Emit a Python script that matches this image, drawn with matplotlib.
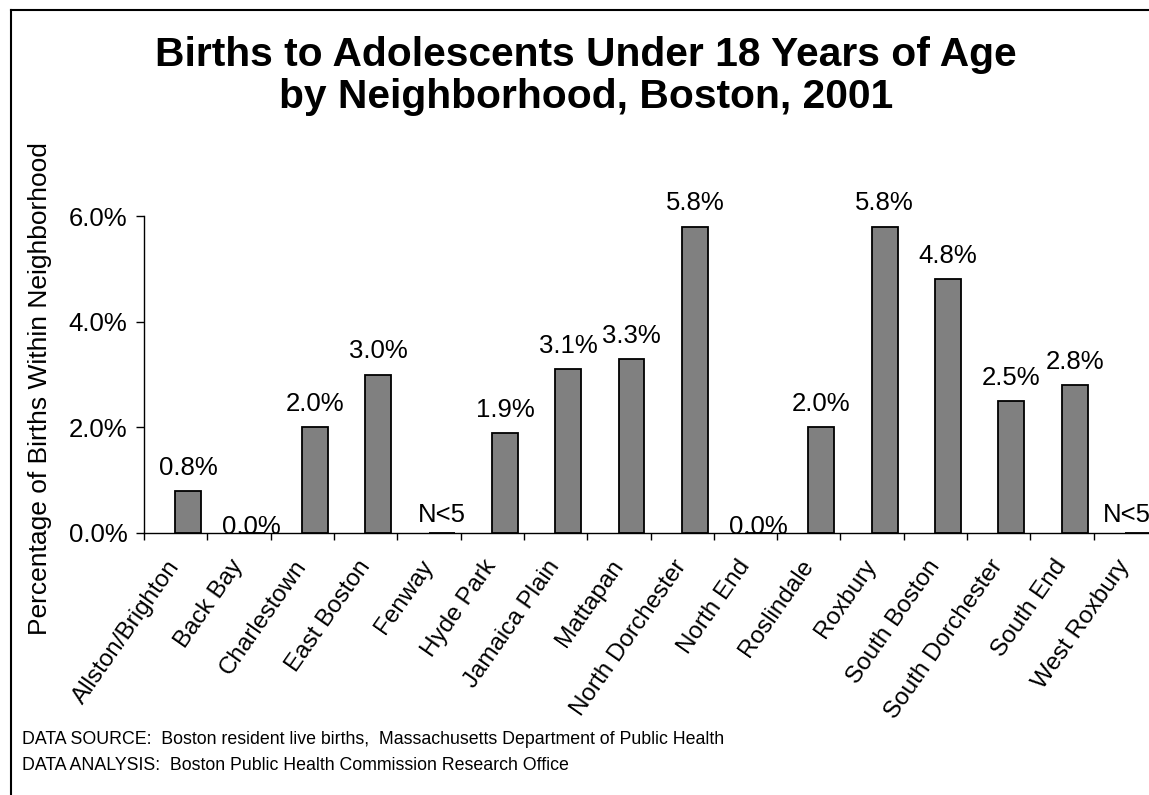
import numpy as np
import matplotlib
matplotlib.use("Agg")
import matplotlib.pyplot as plt
from matplotlib.lines import Line2D

plt.rcParams['font.family'] = ['Liberation Sans', 'DejaVu Sans']

neighborhoods = ["Allston/Brighton", "Back Bay", "Charlestown", "East Boston", "Fenway",
                 "Hyde Park", "Jamaica Plain", "Mattapan", "North Dorchester", "North End",
                 "Roslindale", "Roxbury", "South Boston", "South Dorchester", "South End",
                 "West Roxbury"]
# percent of births; None = suppressed (N<5)
pct = [0.8, 0.0, 2.0, 3.0, None, 1.9, 3.1, 3.3, 5.8, 0.0, 2.0, 5.8, 4.8, 2.5, 2.8, None]
yticks = [0, 2, 4, 6]

title = "Births to Adolescents Under 18 Years of Age\nby Neighborhood, Boston, 2001"
ylabel = "Percentage of Births Within Neighborhood"
notes = ["DATA SOURCE:  Boston resident live births,  Massachusetts Department of Public Health",
         "DATA ANALYSIS:  Boston Public Health Commission Research Office"]

W, H = 1149, 795
fig = plt.figure(figsize=(W / 100, H / 100), dpi=100)

# outer frame (only top and left edges fall inside the picture)
fig.add_artist(Line2D([11 / W, 1.01], [1 - 10 / H, 1 - 10 / H], color='black', lw=1.5))
fig.add_artist(Line2D([11 / W, 11 / W], [1 - 10 / H, -0.01], color='black', lw=1.5))

ax = fig.add_axes([144 / W, (H - 533) / H, 1013 / W, 317 / H])

x = np.arange(len(neighborhoods))
shift, width = 0.2, 0.41
fs = 18.5
heights = [v if v is not None else 0 for v in pct]
ax.bar(x + shift, heights, width=width, color='#808080', edgecolor='black', linewidth=1.3, zorder=3)

for i, v in enumerate(pct):
    xs = i + shift
    ha = 'center'
    if i == len(pct) - 1:
        xs = i + shift + width / 2
        ha = 'right'
    if v is None:
        txt, off = "N<5", 4.3
    elif v == 0:
        txt, off = f"{v:.1f}%", -4
    else:
        txt, off = f"{v:.1f}%", 8
    ax.annotate(txt, (xs, heights[i]), xytext=(0, off), textcoords='offset points',
                ha=ha, va='bottom', fontsize=fs, clip_on=False, annotation_clip=False)

ax.set_xlim(-0.5, len(neighborhoods) - 0.5)
ax.set_ylim(0, 6)
ax.set_yticks(yticks)
ax.set_yticklabels([f"{t:.1f}%" for t in yticks], fontsize=fs)
ax.tick_params(axis='y', direction='out', length=6, width=1, pad=6)

ax.set_xticks(np.arange(len(neighborhoods) + 1) - 0.5)
ax.set_xticklabels([])
ax.tick_params(axis='x', which='major', direction='out', length=5, width=1)
ax.set_xticks(x, minor=True)
ax.set_xticklabels(neighborhoods, minor=True, rotation=55, ha='right', va='center',
                   rotation_mode='anchor', fontsize=17.5)
ax.tick_params(axis='x', which='minor', length=0, pad=21)

for s in ['top', 'right']:
    ax.spines[s].set_visible(False)
ax.spines['left'].set_linewidth(1)
ax.spines['bottom'].set_linewidth(1)

fig.text(586 / W, 1 - 76 / H, title, ha='center', va='center', fontsize=29.3,
         fontweight='bold', linespacing=1.15)
fig.text(40 / W, 1 - 389 / H, ylabel, rotation=90, ha='center', va='center', fontsize=19)
fig.text(22 / W, 1 - 740 / H, notes[0], ha='left', va='center', fontsize=12.8)
fig.text(22 / W, 1 - 765 / H, notes[1], ha='left', va='center', fontsize=12.8)

fig.savefig("out.png", dpi=100)
